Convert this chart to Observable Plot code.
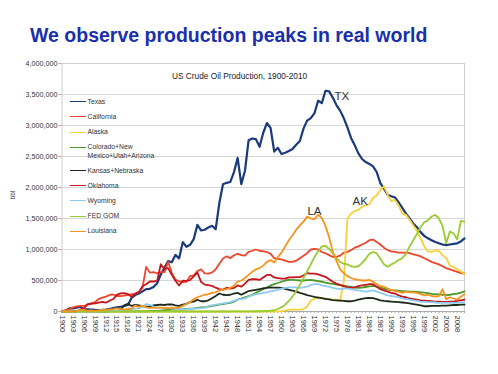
<!DOCTYPE html>
<html><head><meta charset="utf-8">
<script src="https://cdn.jsdelivr.net/npm/d3@7"></script>
<script src="https://cdn.jsdelivr.net/npm/@observablehq/plot@0.6"></script>
<style>
body{margin:0;background:#fff;font-family:"Liberation Sans",Arial,sans-serif;}
#wrap{position:relative;width:498px;height:374px;overflow:hidden;background:#fff;}
#title{position:relative;height:55px;}
#title span{position:absolute;left:30px;top:26px;font-size:19.5px;line-height:19.5px;font-weight:bold;color:#1a30aa;white-space:nowrap;}
#ctitle{position:absolute;left:172px;top:71px;font-size:8.3px;line-height:10px;color:#222;white-space:nowrap;}
#ylab{position:absolute;left:12px;top:195px;font-size:6.5px;color:#333;transform:translate(-50%,-50%) rotate(-90deg);}
#legend{position:absolute;left:70px;top:98px;font-size:6.8px;color:#333;}
.row{display:flex;align-items:flex-start;line-height:8.5px;margin-bottom:6.6px;}
.sw{width:16px;height:0;margin-top:3.4px;margin-right:1.5px;flex:none;}
.lt{max-width:72px;}
</style></head>
<body>
<div id="wrap">
<div id="title"><span>We observe production peaks in real world</span></div>
<div id="chart"></div>
<div id="ctitle">US Crude Oil Production, 1900-2010</div>
<div id="ylab">bbl</div>
<div id="legend"></div>
</div>
<script>
const years = d3.range(1900, 2011);
const seriesNames = ["Texas","California","Alaska","Colorado+New Mexico+Utah+Arizona","Kansas+Nebraska","Oklahoma","Wyoming","FED GOM","Louisiana"];
const seriesColors = ["#1a3a7e","#f0452a","#f7d13a","#4a9a2a","#1e2b1c","#c4161c","#8ecbf0","#99cc33","#f7941e"];
const yTicks = [0,500,1000,1500,2000,2500,3000,3500,4000]; // thousand bbl
const labelYears = [1900,1903,1906,1909,1912,1915,1918,1921,1924,1927,1930,1933,1936,1939,1942,1945,1948,1951,1954,1957,1960,1963,1966,1969,1972,1975,1978,1981,1984,1987,1990,1993,1996,1999,2002,2005,2008];

// values in thousand bbl, 1900..2010
const texas = [
2,12,50,49,62,77,35,33,31,25,
24,26,32,41,55,66,76,88,106,218,
265,290,325,361,366,394,456,597,704,813,
795,913,856,1119,1044,1076,1167,1397,1307,1318,
1356,1383,1326,1750,2052,2075,2089,2248,2476,2053,
2269,2763,2791,2779,2657,2883,3040,2960,2580,2640,
2540,2560,2590,2620,2690,2750,2950,3080,3120,3200,
3400,3360,3560,3550,3450,3330,3240,3120,2970,2800,
2680,2550,2460,2410,2380,2340,2250,2070,1980,1880,
1860,1840,1760,1670,1580,1500,1420,1360,1280,1220,
1180,1150,1120,1100,1080,1070,1080,1090,1100,1130,1180];
const california = [
11,24,38,67,81,92,91,109,132,152,
201,224,239,267,274,250,247,256,267,278,
284,315,380,720,627,635,617,635,634,800,
624,514,488,473,478,570,584,652,681,614,
611,629,680,770,855,890,860,907,930,910,
900,960,980,1000,980,970,960,930,860,850,
840,820,800,800,820,860,900,940,1000,1010,
1000,960,940,910,880,880,900,950,960,990,
1030,1050,1080,1110,1150,1160,1120,1080,1030,990,
970,960,950,950,950,940,920,910,890,860,
830,800,780,760,730,700,680,660,640,620,610];
const alaska = [
0,0,0,0,0,0,0,0,0,0,
0,0,0,0,0,0,0,0,0,0,
0,0,0,0,0,0,0,0,0,0,
0,0,0,0,0,0,0,0,0,0,
0,0,0,0,0,0,0,0,0,0,
0,0,0,0,0,0,0,0,0,1,
2,17,28,29,30,30,39,80,181,203,
229,218,199,198,193,191,173,464,1500,1580,
1620,1640,1690,1710,1730,1830,1870,1960,2020,1880,
1780,1800,1710,1580,1560,1480,1390,1300,1180,1050,
970,960,985,975,910,860,740,720,680,645,600];
const fourCorners = [
1,1,1,1,1,1,1,1,1,1,
1,1,1,1,1,1,1,1,1,1,
1,1,2,3,5,8,10,15,20,25,
30,30,30,35,40,45,50,60,65,70,
80,90,100,110,120,130,140,160,190,210,
230,250,270,300,330,360,390,420,440,460,
480,500,510,510,505,500,500,505,510,500,
490,480,465,455,445,435,425,415,405,395,
385,380,385,395,405,415,400,385,370,355,
345,340,335,330,325,320,320,315,310,305,
295,285,280,275,270,265,270,280,290,305,325];
const kansasNebraska = [
0,0,1,2,4,10,3,2,1,1,
1,1,1,7,9,7,24,100,125,90,
107,100,86,78,79,100,105,110,105,115,
113,100,90,110,125,150,160,190,165,165,
180,215,250,290,270,265,270,290,300,270,
300,330,340,350,360,375,380,390,385,385,
380,365,350,335,320,300,285,265,250,235,
225,215,205,195,185,180,175,170,165,165,
175,190,205,215,220,215,200,180,170,165,
160,155,150,145,140,130,120,110,100,85,
85,90,90,90,95,95,100,105,105,110,112];
const oklahoma = [
0,0,0,1,3,33,51,120,125,131,
143,155,142,174,201,267,293,296,282,237,
290,312,408,440,484,484,493,762,682,700,
592,495,419,498,493,506,566,626,479,433,
424,413,384,362,353,384,368,380,420,400,
450,510,520,520,510,550,590,590,550,540,
530,530,550,550,555,555,580,620,610,610,
600,580,560,520,480,450,430,410,390,380,
390,410,420,430,440,440,400,360,340,320,
300,290,260,240,230,210,200,190,180,175,
170,165,160,158,155,155,160,160,170,180,190];
const wyoming = [
0,0,0,0,0,0,0,0,0,0,
1,1,5,6,12,12,16,24,35,37,
45,55,75,120,108,80,60,57,58,55,
50,40,37,35,36,40,45,50,55,58,
90,100,110,120,130,140,150,170,190,200,
210,240,260,280,285,300,310,330,335,350,
370,380,390,390,390,380,390,400,430,440,
440,420,410,400,380,370,360,370,370,360,
350,340,330,320,330,340,320,300,280,260,
250,240,230,210,200,190,180,170,160,155,
150,150,145,140,140,140,140,140,140,145,150];
const fedGom = [
0,0,0,0,0,0,0,0,0,0,
0,0,0,0,0,0,0,0,0,0,
0,0,0,0,0,0,0,0,0,0,
0,0,0,0,0,0,0,0,0,0,
0,0,0,0,0,0,0,1,1,2,
2,3,3,4,4,5,8,12,20,40,
70,110,170,240,330,430,540,650,760,880,
970,1050,1060,1010,940,860,800,770,760,730,
720,730,780,850,930,960,940,850,760,720,
760,790,830,860,930,1050,1150,1250,1360,1440,
1470,1530,1560,1500,1380,1100,1290,1260,1160,1460,1450];
const louisiana = [
0,0,1,2,7,25,25,14,16,10,
18,29,25,35,39,50,44,31,44,47,
97,75,95,66,59,57,64,61,58,56,
63,58,60,90,120,150,200,230,250,270,
280,300,310,340,350,360,380,420,480,500,
540,590,640,680,700,740,800,830,790,880,
950,1050,1150,1230,1320,1390,1450,1530,1500,1490,
1560,1510,1380,1200,960,820,680,620,570,540,
520,510,500,500,510,480,440,410,400,370,
350,330,320,300,320,310,310,300,280,260,
270,250,240,250,360,200,230,210,190,240,280];

const seriesValues = [texas,california,alaska,fourCorners,kansasNebraska,oklahoma,wyoming,fedGom,louisiana];
const seriesWidths = [2.2,1.8,1.8,1.8,1.8,1.8,1.8,1.8,1.8];

const annLabels = ["TX","LA","AK"];
const annYears = [1976.5,1969,1981.5];
const annValues = [3470,1620,1780];
const annotations = annLabels.map((t,i)=>({label:t, year:annYears[i], value:annValues[i]}));

const lineMarks = seriesNames.map((name,k) =>
  Plot.line(years.map((yr,i)=>({year:yr, value:seriesValues[k][i]})),
    {x:"year", y:"value", stroke: seriesColors[k], strokeWidth: seriesWidths[k], strokeLinejoin:"round"}));

const chart = Plot.plot({
  width: 498, height: 319,
  marginTop: 8, marginBottom: 63, marginLeft: 61.5, marginRight: 34,
  style: {fontFamily: '"Liberation Sans", Arial, sans-serif', background: "#fff", overflow: "visible"},
  x: {domain: [1900, 2010]},
  y: {domain: [0, 4000]},
  marks: [
    Plot.gridY(yTicks, {stroke: "#d6d6d6", strokeOpacity: 1}),
    Plot.frame({stroke: "#d0d0d0"}),
    Plot.axisY({ticks: yTicks, tickFormat: d => d3.format(",")(d*1000), tickSize: 3, tickPadding: 1.5, fontSize: 7.2, stroke: "#aaa", fill: "#333", label: null}),
    Plot.ruleY([0], {stroke: "#aaa"}),
    Plot.axisX({ticks: years, tickFormat: () => "", tickSize: 2, stroke: "#aaa", label: null}),
    Plot.axisX({ticks: labelYears, tickFormat: d => String(d), tickSize: 0, tickPadding: 4, tickRotate: 90, fontSize: 7.5, fill: "#333", label: null}),
    ...lineMarks,
    Plot.text(annotations, {x: "year", y: "value", text: "label", fontSize: 11.5, fill: "#333"})
  ]
});
document.getElementById("chart").appendChild(chart);

const legend = document.getElementById("legend");
seriesNames.forEach((name,k) => {
  const row = document.createElement("div");
  row.className = "row";
  const sw = document.createElement("div");
  sw.className = "sw";
  sw.style.borderTop = `1.8px solid ${seriesColors[k]}`;
  const lt = document.createElement("div");
  lt.className = "lt";
  lt.textContent = name;
  row.appendChild(sw); row.appendChild(lt);
  legend.appendChild(row);
});
</script>
</body></html>
